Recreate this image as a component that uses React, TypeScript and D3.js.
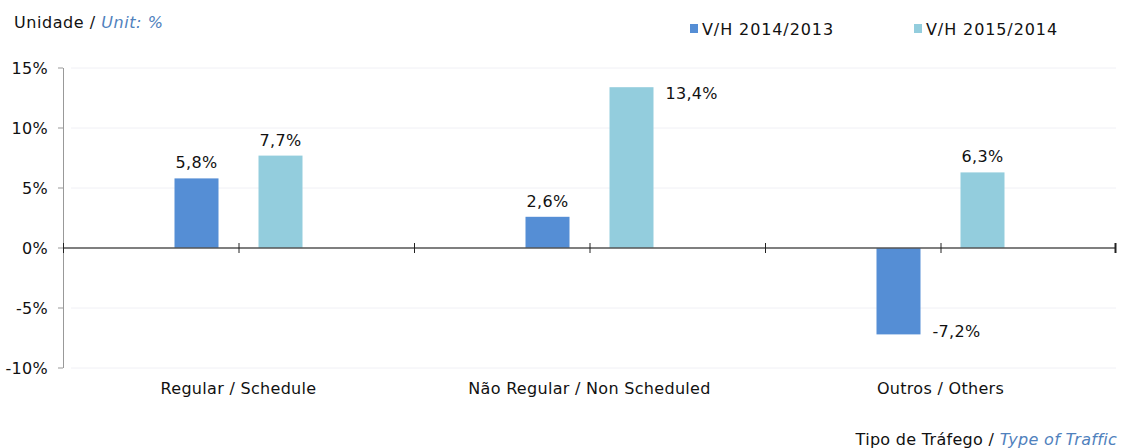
import React from "react";
import * as d3 from "d3";

const categories = ["Regular / Schedule", "Não Regular / Non Scheduled", "Outros / Others"];
const seriesNames = ["V/H 2014/2013", "V/H 2015/2014"];
const series2014 = [5.8, 2.6, -7.2];
const series2015 = [7.7, 13.4, 6.3];
const yTicks = [15, 10, 5, 0, -5, -10];
const colors = ["#558ED5", "#93CDDD"];

const W = 1129, H = 448;
const left = 63, right = 1116, top = 68, bottom = 368;
const font = "DejaVu Sans, Verdana, sans-serif";
const fs = 16;
const ls = 0.3;

export default function App() {
  const y = d3.scaleLinear().domain([-10, 15]).range([bottom, top]);
  const x0 = d3.scaleBand<string>().domain(categories).range([left, right]).padding(0);
  const bw = 44;
  const offs = [-64, 20];
  const fmt = (v: number) => v.toFixed(1).replace(".", ",") + "%";
  const data = [series2014, series2015];
  const xTicks: number[] = [];
  categories.forEach((c) => {
    xTicks.push(x0(c)!);
    xTicks.push(x0(c)! + x0.bandwidth() / 2);
  });
  xTicks.push(right - 1);
  return (
    <svg width={W} height={H} style={{ display: "block", position: "absolute", left: 0, top: 0 }} fontFamily={font} letterSpacing={ls}>
      <rect width={W} height={H} fill="#fff" />
      <text x={14} y={28} fontSize={fs} fill="#111" letterSpacing={0.55}>
        Unidade / <tspan fill="#4F81BD" fontStyle="italic">Unit: %</tspan>
      </text>
      {seriesNames.map((s, i) => {
        const lx = i === 0 ? 690 : 914;
        return (
          <g key={s}>
            <rect x={lx} y={24} width={8} height={9} fill={colors[i]} />
            <text x={lx + 12} y={35} fontSize={fs} fill="#111" letterSpacing={0.9}>{s}</text>
          </g>
        );
      })}
      {yTicks.filter((t) => t !== 0).map((t) => (
        <line key={"g" + t} x1={left + 8} x2={right} y1={y(t)} y2={y(t)} stroke="#F0F0F5" strokeWidth={1} />
      ))}
      <line x1={left + 0.5} x2={left + 0.5} y1={top} y2={bottom} stroke="#999" strokeWidth={1} />
      {yTicks.map((t) => (
        <g key={"t" + t}>
          <line x1={left - 5} x2={left} y1={y(t)} y2={y(t)} stroke="#999" />
          <text x={48} y={y(t) + 6} fontSize={fs} textAnchor="end" fill="#111">{t}%</text>
        </g>
      ))}
      {categories.map((c, ci) => {
        const cx = x0(c)! + x0.bandwidth() / 2;
        return (
          <g key={c}>
            {data.map((arr, si) => {
              const v = arr[ci];
              const bx = cx + offs[si];
              const y0 = y(0), yv = y(v);
              const rx = bx, ry = Math.min(y0, yv), rh = Math.abs(yv - y0);
              let lx = bx + bw / 2, ly = yv - 10, anchor: "middle" | "start" = "middle";
              if (v < 0) { lx = bx + bw + 12; ly = yv + 3; anchor = "start"; }
              else if (yv - top < 30) { lx = bx + bw + 12; ly = yv + 12; anchor = "start"; }
              return (
                <g key={si}>
                  <rect x={rx} y={ry} width={bw} height={rh} fill={colors[si]} />
                  <text x={lx} y={ly} fontSize={fs} textAnchor={anchor} fill="#111">{fmt(v)}</text>
                </g>
              );
            })}
            <text x={cx} y={394} fontSize={fs} textAnchor="middle" fill="#111">{c}</text>
          </g>
        );
      })}
      <line x1={left} x2={right} y1={y(0)} y2={y(0)} stroke="#555" strokeWidth={1.5} />
      {xTicks.map((t, i) => (
        <line key={"x" + i} x1={t + 0.5} x2={t + 0.5} y1={y(0) - 5} y2={y(0) + 5} stroke="#222" strokeWidth={i === xTicks.length - 1 ? 2 : 1} />
      ))}
      <text x={1117} y={445} fontSize={fs} textAnchor="end" fill="#111">
        Tipo de Tráfego / <tspan fill="#4F81BD" fontStyle="italic">Type of Traffic</tspan>
      </text>
    </svg>
  );
}
